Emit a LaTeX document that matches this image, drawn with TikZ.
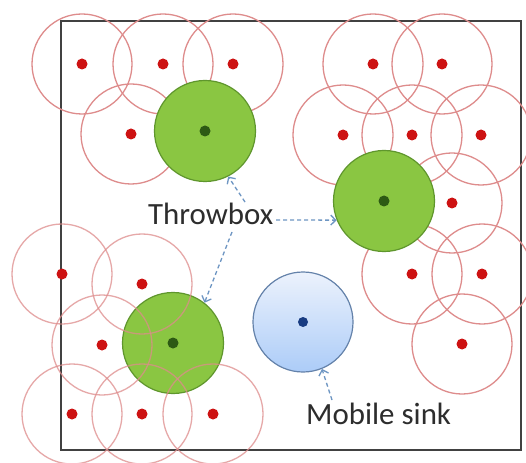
\documentclass[tikz,border=0pt]{standalone}
\usepackage{fontspec}
\setmainfont{Carlito}
\usetikzlibrary{arrows.meta}
\definecolor{framec}{RGB}{65,65,65}
\definecolor{rangec}{RGB}{222,140,140}
\definecolor{dotred}{RGB}{205,18,18}
\definecolor{greenf}{RGB}{138,198,66}
\definecolor{greenb}{RGB}{95,150,45}
\definecolor{greend}{RGB}{45,90,20}
\definecolor{bluetop}{RGB}{236,242,252}
\definecolor{bluebot}{RGB}{172,204,248}
\definecolor{blueb}{RGB}{100,130,170}
\definecolor{blued}{RGB}{25,60,130}
\definecolor{connc}{RGB}{110,150,195}
\definecolor{textc}{RGB}{45,45,45}
\begin{document}
\begin{tikzpicture}[x=1bp,y=-1bp,
  rangecircle/.style={circle, draw=rangec, line width=1.3bp, minimum size=100bp, inner sep=0pt},
  sensor/.style={circle, fill=dotred, minimum size=11bp, inner sep=0pt},
  throwbox/.style={circle, draw=greenb, fill=greenf, line width=1.2bp, minimum size=101bp, inner sep=0pt},
  gdot/.style={circle, fill=greend, minimum size=11bp, inner sep=0pt},
  sinkcircle/.style={circle, draw=blueb, top color=bluetop, bottom color=bluebot, line width=1.2bp, minimum size=100bp, inner sep=0pt},
  bdot/.style={circle, fill=blued, minimum size=10bp, inner sep=0pt},
  lbl/.style={font=\fontsize{31}{37}\selectfont, text=textc, inner sep=0pt, anchor=base west},
  conn/.style={draw=connc, line width=1.3bp, dash pattern=on 4bp off 3bp, -{Straight Barb[length=5bp,width=10bp]}},
  frameline/.style={draw=framec, line width=2.6bp}
]
\useasboundingbox (0,0) rectangle (526,463);
\fill[white] (0,0) rectangle (526,463);
\draw[frameline] (61,21) rectangle (521,450);
% sensors of the upper and right groups
\foreach \x/\y [count=\i] in {82/64,163/64,233/64,131/134,373/64,442/64,343/135,412/135,481/135,452/203,412/274,482/274,462/344} {
  \node[rangecircle] (r\i) at (\x,\y) {};
  \node[sensor] (s\i) at (\x,\y) {};
}
% throwboxes and sink
\node[throwbox] (g1) at (205,131) {};
\node[gdot] (g1c) at (g1.center) {};
\node[throwbox] (g2) at (384,201) {};
\node[gdot] (g2c) at (g2.center) {};
\node[sinkcircle] (sink) at (303,322) {};
\node[bdot] (sinkc) at (sink.center) {};
\node[throwbox] (g3) at (173,343) {};
\node[gdot] (g3c) at (g3.center) {};
% sensors of the lower left group
\foreach \x/\y [count=\i from 14] in {62/274,142/284,102/345,72/414,142/414,213/414} {
  \node[rangecircle, draw opacity=0.75] (r\i) at (\x,\y) {};
  \node[sensor] (s\i) at (\x,\y) {};
}
% labels
\node[lbl] (tb) at (148,225) {Throwbox};
\node[lbl] (ms) at (306,424) {Mobile sink};
% connectors
\coordinate (a1) at (245,202);
\coordinate (a2) at (276,220);
\coordinate (a3) at (232,232);
\coordinate (a4) at (332,400);
\draw[conn] (a1) -- (g1.297);
\draw[conn] (a2) -- (g2.202);
\draw[conn] (a3) -- (g3.52);
\draw[conn] (a4) -- (sink.292);
\end{tikzpicture}
\end{document}
